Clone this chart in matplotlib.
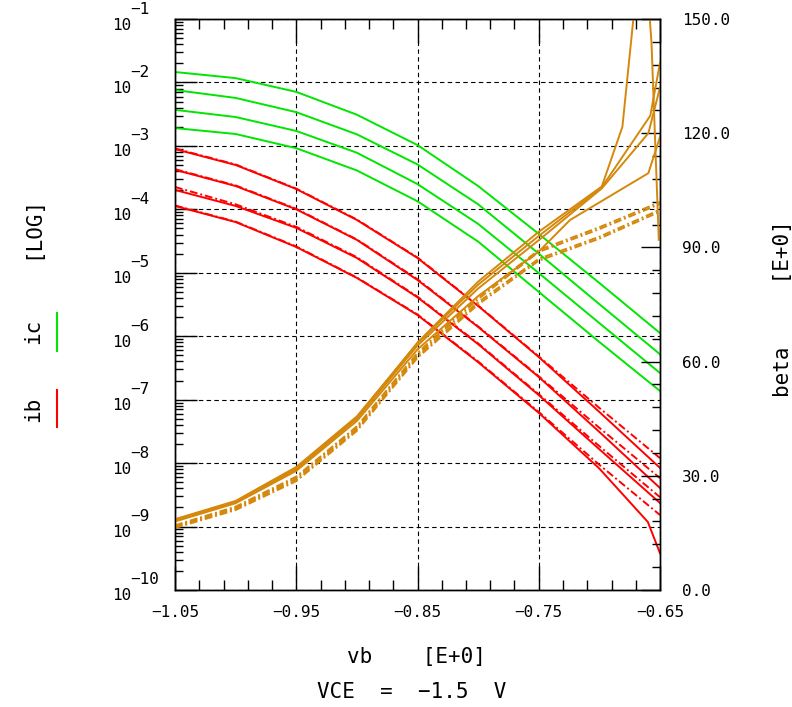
import numpy as np
import matplotlib
matplotlib.use("Agg")
from matplotlib import pyplot as plt
from matplotlib.lines import Line2D
from matplotlib.ticker import FixedLocator, FixedFormatter, LogLocator, NullFormatter, MultipleLocator, FormatStrFormatter

plt.rcParams['font.family'] = ['DejaVu Sans Mono', 'DejaVu Sans']

GREEN = '#00e600'
RED = '#ff0000'
ORANGE = '#d4880c'

# base voltage sweep (V)
vb = [-1.05, -1.00, -0.95, -0.90, -0.85, -0.80, -0.75, -0.70, -0.65]

# collector current ic (A), four curves
ic_1 = [1.46e-2, 1.17e-2, 7.1e-3, 3.1e-3, 1.03e-3, 2.33e-4, 4.1e-5, 6.9e-6, 1.12e-6]
ic_2 = [7.6e-3, 5.7e-3, 3.4e-3, 1.52e-3, 5.1e-4, 1.2e-4, 2.0e-5, 3.2e-6, 5.2e-7]
ic_3 = [3.7e-3, 2.85e-3, 1.72e-3, 7.8e-4, 2.5e-4, 5.9e-5, 9.9e-6, 1.61e-6, 2.63e-7]
ic_4 = [1.91e-3, 1.54e-3, 9.2e-4, 4.1e-4, 1.34e-4, 3.1e-5, 5.0e-6, 8.1e-7, 1.37e-7]

# base current ib (A), solid
ib_1 = [8.9e-4, 5.0e-4, 2.09e-4, 6.8e-5, 1.71e-5, 3.0e-6, 4.7e-7, 6.4e-8, 8.4e-9]
ib_2 = [4.2e-4, 2.33e-4, 1.0e-4, 3.3e-5, 7.7e-6, 1.40e-6, 2.28e-7, 3.1e-8, 4.05e-9]
ib_3 = [2.02e-4, 1.13e-4, 5.1e-5, 1.71e-5, 4.1e-6, 7.5e-7, 1.18e-7, 1.65e-8, 2.35e-9]
vb_ib4 = [-1.05, -1.00, -0.95, -0.90, -0.85, -0.80, -0.75, -0.70, -0.66, -0.65]
ib_4 = [1.13e-4, 6.3e-5, 2.55e-5, 8.3e-6, 2.16e-6, 3.9e-7, 6.2e-8, 8.2e-9, 1.18e-9, 3.8e-10]

# base current ib (A), dash-dot
ib_1d = [9.1e-4, 5.1e-4, 2.12e-4, 6.9e-5, 1.74e-5, 3.05e-6, 4.8e-7, 7.4e-8, 1.20e-8]
ib_2d = [4.3e-4, 2.38e-4, 1.02e-4, 3.35e-5, 7.9e-6, 1.43e-6, 2.34e-7, 3.6e-8, 5.8e-9]
ib_3d = [2.25e-4, 1.2e-4, 5.3e-5, 1.76e-5, 4.2e-6, 7.7e-7, 1.22e-7, 1.85e-8, 2.9e-9]
ib_4d = [1.15e-4, 6.4e-5, 2.6e-5, 8.4e-6, 2.2e-6, 4.0e-7, 6.4e-8, 9.4e-9, 1.52e-9]

# current gain beta, solid
vb_b1 = [-1.05, -1.00, -0.95, -0.90, -0.85, -0.80, -0.75, -0.698, -0.681, -0.664, -0.657, -0.651]
beta_1 = [18.4, 23.2, 32.0, 45.3, 65.0, 81.0, 94.1, 106.0, 121.7, 175.0, 143.7, 92.0]
vb_b2 = [-1.05, -1.00, -0.95, -0.90, -0.85, -0.80, -0.75, -0.698, -0.658, -0.65]
beta_2 = [18.6, 23.4, 32.3, 45.6, 64.8, 80.2, 93.0, 105.8, 124.6, 138.5]
vb_b3 = [-1.05, -1.00, -0.95, -0.90, -0.85, -0.80, -0.75, -0.698, -0.6596, -0.65]
beta_3 = [18.2, 23.0, 31.7, 45.0, 64.2, 79.2, 91.9, 105.5, 120.0, 132.0]
vb_b4 = [-1.05, -1.00, -0.95, -0.90, -0.85, -0.80, -0.75, -0.7242, -0.6596, -0.65]
beta_4 = [18.0, 22.8, 31.3, 44.4, 63.2, 77.2, 88.9, 97.2, 109.5, 119.0]

# current gain beta, dash-dot
beta_1d = [17.0, 21.9, 29.8, 43.0, 62.3, 77.0, 89.3, 95.3, 101.9]
beta_2d = [16.8, 21.6, 29.4, 42.6, 61.8, 76.4, 88.8, 94.8, 101.4]
beta_3d = [16.5, 21.3, 29.0, 42.2, 61.4, 75.6, 87.0, 92.8, 99.9]
beta_4d = [16.3, 21.0, 28.6, 41.8, 61.0, 75.0, 86.5, 92.3, 99.4]

x_ticks = [-1.05, -0.95, -0.85, -0.75, -0.65]
x_labels = ['\u22121.05', '\u22120.95', '\u22120.85', '\u22120.75', '\u22120.65']
beta_ticks = [0, 30, 60, 90, 120, 150]

DASHDOT = (0, (4, 1.5, 1, 1.5))
LW = 1.4

fig = plt.figure(figsize=(7.92, 7.07), dpi=100)
ax = fig.add_axes([175 / 792, 117 / 707, 485 / 792, 571 / 707])
ax.set_yscale('log')
ax.set_xlim(-1.05, -0.65)
ax.set_ylim(1e-10, 1e-1)

for y in (ic_1, ic_2, ic_3, ic_4):
    ax.plot(vb, y, color=GREEN, lw=LW)
for y in (ib_1, ib_2, ib_3):
    ax.plot(vb, y, color=RED, lw=LW)
ax.plot(vb_ib4, ib_4, color=RED, lw=LW)
for y in (ib_1d, ib_2d, ib_3d, ib_4d):
    ax.plot(vb, y, color=RED, lw=LW, ls=DASHDOT)

# ticks, grid
ax.xaxis.set_major_locator(FixedLocator(x_ticks))
ax.xaxis.set_major_formatter(FixedFormatter(x_labels))
ax.xaxis.set_minor_locator(FixedLocator(np.round(np.arange(-1.05, -0.649, 0.02), 3)))
ax.yaxis.set_major_locator(LogLocator(base=10, numticks=20))
ax.yaxis.set_minor_locator(LogLocator(base=10, subs=np.arange(2, 10), numticks=20))
ax.yaxis.set_major_formatter(NullFormatter())
ax.yaxis.set_minor_formatter(NullFormatter())
ax.tick_params(axis='x', which='both', direction='in', top=True, bottom=True,
               labelsize=11.5, pad=11, width=1.0)
ax.tick_params(axis='x', which='major', length=17)
ax.tick_params(axis='x', which='minor', length=7)
ax.tick_params(axis='y', which='both', direction='in', left=True, right=False, width=1.0)
ax.tick_params(axis='y', which='major', length=16)
ax.tick_params(axis='y', which='minor', length=6)
ax.grid(True, which='major', color='black', lw=0.8, ls=(0, (4, 3)))
for s in ax.spines.values():
    s.set_linewidth(1.0)

for k in range(-10, 0):
    ax.annotate('10', xy=(0, 10.0 ** k), xycoords=('axes fraction', 'data'),
                xytext=(-44, -6), textcoords='offset pixels',
                ha='right', va='center', fontsize=11.5)
    ax.annotate('\u2212%d' % (-k), xy=(0, 10.0 ** k), xycoords=('axes fraction', 'data'),
                xytext=(-45, 10), textcoords='offset pixels',
                ha='left', va='center', fontsize=11.5)

ax2 = ax.twinx()
ax2.set_ylim(0, 150)
for xs, y in ((vb_b1, beta_1), (vb_b2, beta_2), (vb_b3, beta_3), (vb_b4, beta_4)):
    ax2.plot(xs, y, color=ORANGE, lw=LW)
for y in (beta_1d, beta_2d, beta_3d, beta_4d):
    ax2.plot(vb, y, color=ORANGE, lw=LW, ls=DASHDOT)
ax2.yaxis.set_major_locator(FixedLocator(beta_ticks))
ax2.yaxis.set_major_formatter(FormatStrFormatter('%.1f'))
ax2.yaxis.set_minor_locator(MultipleLocator(6))
ax2.tick_params(axis='y', which='both', direction='in', width=1.0, labelsize=11.5, pad=16)
ax2.tick_params(axis='y', which='major', length=14)
ax2.tick_params(axis='y', which='minor', length=6)
for s in ax2.spines.values():
    s.set_linewidth(1.0)

# axis titles
fig.text(416 / 792, 1 - 657 / 707, 'vb    [E+0]', ha='center', va='center', fontsize=15)
fig.text(412 / 792, 1 - 692 / 707, 'VCE  =  \u22121.5  V', ha='center', va='center', fontsize=15)
fig.text(32 / 792, 1 - 227 / 707, '[LOG]', rotation=90, ha='center', va='center', fontsize=15)
fig.text(33 / 792, 1 - 331 / 707, 'ic', rotation=90, ha='center', va='center', fontsize=15)
fig.text(33 / 792, 1 - 409 / 707, 'ib', rotation=90, ha='center', va='center', fontsize=15)
fig.text(783 / 792, 1 - 309 / 707, 'beta     [E+0]', rotation=90, ha='center', va='center', fontsize=15)
fig.add_artist(Line2D([57 / 792, 57 / 792], [1 - 313 / 707, 1 - 351 / 707],
                      transform=fig.transFigure, color=GREEN, lw=1.5))
fig.add_artist(Line2D([57 / 792, 57 / 792], [1 - 390 / 707, 1 - 427 / 707],
                      transform=fig.transFigure, color=RED, lw=1.5))

fig.savefig('out.png', dpi=100)
